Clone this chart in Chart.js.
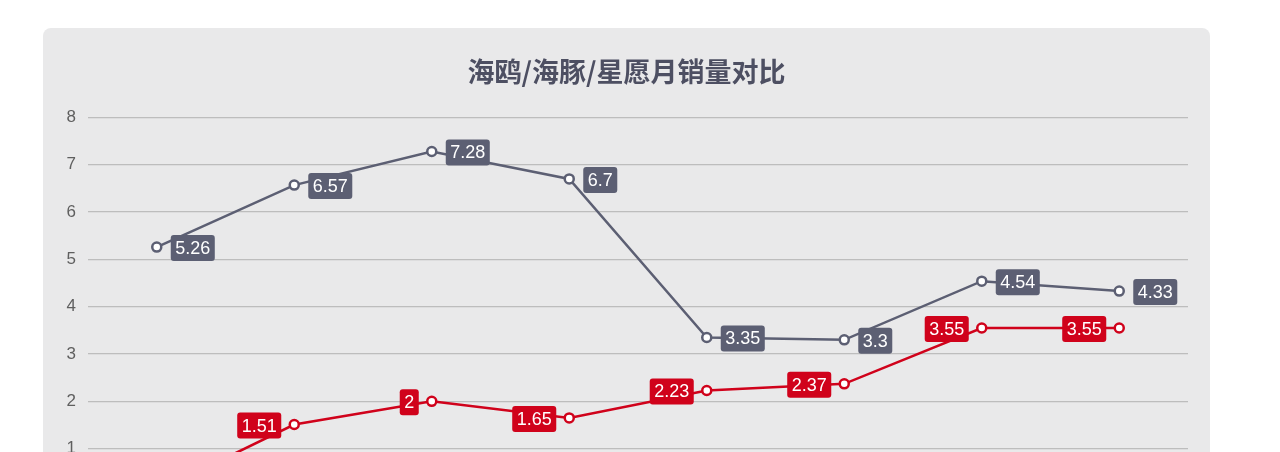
<!DOCTYPE html>
<html>
<head>
<meta charset="utf-8">
<script src="https://cdn.jsdelivr.net/npm/chart.js@4"></script>
<style>
  html, body { margin: 0; padding: 0; background: #ffffff; }
  #card {
    position: absolute; left: 43px; top: 28px;
    width: 1167px; height: 540px;
    background: #e9e9ea; border-radius: 8px;
  }
  #card canvas { display: block; }
</style>
</head>
<body>
<div id="card"><canvas id="salesChart" width="1167" height="540"></canvas></div>
<script>
// 月份 (下方被裁掉，估计)
const months = ['3月', '4月', '5月', '6月', '7月', '8月', '9月', '10月'];
// 两条折线 (单位: 万辆)
const graySeries = [5.26, 6.57, 7.28, 6.7, 3.35, 3.3, 4.54, 4.33];
const redSeries = [0.1, 1.51, 2, 1.65, 2.23, 2.37, 3.55, 3.55];
const seriesNames = ['海鸥', '星愿'];
const yTicks = [0, 1, 2, 3, 4, 5, 6, 7, 8];

const GRAY = '#5c5f73';
const RED = '#d0021b';

// --- 数据标签 (没有 datalabels 插件, 自己画) ---
const valueLabels = {
    id: 'valueLabels',
    afterDatasetsDraw(chart) {
        const ctx = chart.ctx;
        ctx.save();
        ctx.font = '18px "Liberation Sans", Arial, sans-serif';
        ctx.textBaseline = 'middle';
        chart.data.datasets.forEach((ds, i) => {
            const meta = chart.getDatasetMeta(i);
            meta.data.forEach((pt, j) => {
                const v = ds.data[j];
                if (v < 0.5) return; // 第一个点在画面外
                const txt = String(v);
                const w = ctx.measureText(txt).width + 9;
                const h = 26;
                const x = ds.labelSide === 'right' ? pt.x + 14 : pt.x - 13 - w;
                const y = pt.y - h / 2 + 1;
                ctx.fillStyle = ds.borderColor;
                ctx.beginPath();
                ctx.roundRect(x, y, w, h, 3);
                ctx.fill();
                ctx.fillStyle = '#ffffff';
                ctx.textAlign = 'center';
                ctx.fillText(txt, x + w / 2, y + h / 2 + 1);
            });
        });
        ctx.restore();
    }
};

new Chart(document.getElementById('salesChart'), {
    type: 'line',
    data: {
        labels: months,
        datasets: [
            {
                label: seriesNames[0],
                data: graySeries,
                borderColor: GRAY,
                backgroundColor: '#ffffff',
                borderWidth: 2.5,
                pointRadius: 4.5,
                pointBorderWidth: 2.5,
                pointBackgroundColor: '#ffffff',
                labelSide: 'right',
                tension: 0
            },
            {
                label: seriesNames[1],
                data: redSeries,
                borderColor: RED,
                backgroundColor: '#ffffff',
                borderWidth: 2.5,
                pointRadius: 4.5,
                pointBorderWidth: 2.5,
                pointBackgroundColor: '#ffffff',
                labelSide: 'left',
                tension: 0
            }
        ]
    },
    options: {
        responsive: false,
        animation: false,
        // 左右相等, 让标题居中在卡片上
        layout: { padding: { left: 22, right: 22, top: 0, bottom: 32 } },
        plugins: {
            legend: { display: false },
            tooltip: { enabled: false },
            title: {
                display: true,
                text: '海鸥/海豚/星愿月销量对比',
                color: '#4d4f62',
                font: { size: 27, weight: 'bold', family: '"Noto Sans CJK SC", sans-serif' },
                padding: { top: 28, bottom: 29 }
            }
        },
        scales: {
            x: {
                offset: true,
                grid: { display: false },
                border: { display: false },
                ticks: { color: '#666666', font: { size: 16, family: '"Liberation Sans", Arial, sans-serif' } },
                afterFit: s => { s.height = 40; }
            },
            y: {
                min: 0,
                max: 8,
                afterBuildTicks: s => { s.ticks = yTicks.map(v => ({ value: v })); },
                grid: { color: '#bdbdbd', lineWidth: 1.2, drawTicks: false },
                border: { display: false },
                ticks: {
                    color: '#5f5f5f',
                    padding: 12,
                    font: { size: 17, family: '"Liberation Sans", Arial, sans-serif' }
                },
                afterFit: s => { s.width = 23; }
            }
        }
    },
    plugins: [valueLabels]
});
</script>
</body>
</html>
